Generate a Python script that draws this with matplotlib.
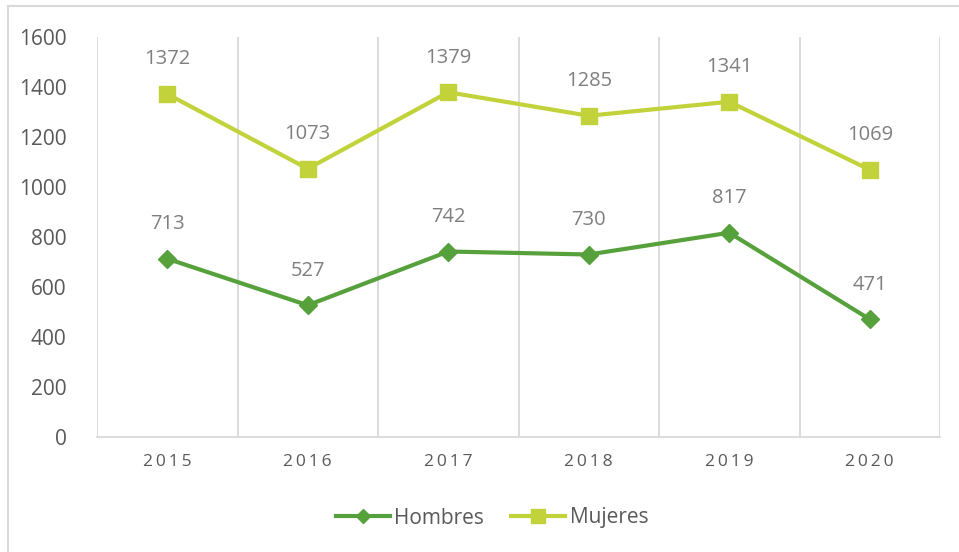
import numpy as np
import matplotlib.pyplot as plt
from matplotlib.lines import Line2D

years = ['2015', '2016', '2017', '2018', '2019', '2020']
hombres = [713, 527, 742, 730, 817, 471]
mujeres = [1372, 1073, 1379, 1285, 1341, 1069]

c_h = '#56a13c'
c_m = '#c2d23a'

plt.rcParams['font.family'] = ['Open Sans', 'DejaVu Sans']

fig = plt.figure(figsize=(9.59, 5.52), dpi=100)
ax = fig.add_axes([97/959, 115/552, 843/959, 400/552])

x = np.arange(len(years))
ax.plot(x, hombres, color=c_h, lw=3, marker='D', ms=9, label='Hombres')
ax.plot(x, mujeres, color=c_m, lw=3, marker='s', ms=12, label='Mujeres')

for xi, v in zip(x, hombres):
    ax.annotate(str(v), (xi, v), xytext=(0, 25), textcoords='offset points',
                ha='center', va='center', fontsize=14.5, color='#7f7f7f')
for xi, v in zip(x, mujeres):
    ax.annotate(str(v), (xi, v), xytext=(0, 25), textcoords='offset points',
                ha='center', va='center', fontsize=14.5, color='#7f7f7f')

ax.set_xlim(-0.5, len(years) - 0.5)
ax.set_ylim(0, 1600)
ax.set_yticks(range(0, 1601, 200))
ax.set_xticks(x)
ax.set_xticklabels(['\u2009'.join(y) for y in years])
ax.tick_params(axis='y', length=0, labelsize=15, labelcolor='#595959', pad=22)
ax.tick_params(axis='x', length=0, labelsize=12.5, labelcolor='#595959', pad=12)

for b in np.arange(-0.5, len(years), 1):
    ax.axvline(b, color='#d9d9d9', lw=1.3, zorder=0)
for s in ['top', 'right', 'left']:
    ax.spines[s].set_visible(False)
ax.spines['bottom'].set_color('#d9d9d9')
ax.spines['bottom'].set_linewidth(1.3)

fig.legend(loc='center', bbox_to_anchor=(492/959, 1 - 518/552), ncol=2, frameon=False,
           fontsize=15, labelcolor='#595959', handlelength=2.6, columnspacing=1.3, handletextpad=0.2,
           markerscale=0.8)

# outer chart border (left and top)
fig.add_artist(Line2D([8/959, 8/959], [0, 1 - 6/552], transform=fig.transFigure, color='#d9d9d9', lw=1.5))
fig.add_artist(Line2D([8/959, 1], [1 - 6/552, 1 - 6/552], transform=fig.transFigure, color='#d9d9d9', lw=1.5))

fig.savefig('out.png', dpi=100)
